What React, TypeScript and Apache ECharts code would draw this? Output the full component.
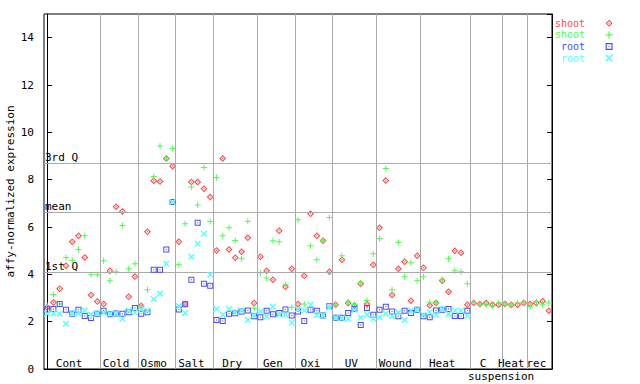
import React, { useEffect, useRef } from "react";
import * as echarts from "echarts";

// ---------------- data ----------------
const groupNames = ["Cont", "Cold", "Osmo", "Salt", "Dry", "Gen", "Oxi", "UV", "Wound", "Heat", "C", "Heat", "rec"];
const groupSizes = [9, 6, 6, 6, 7, 6, 6, 7, 7, 8, 5, 4, 4];

const seriesLabels = ["shoot", "shoot", "root", "root"];

const shoot1 = [
  2.60, 2.81, 3.39, 4.36, 5.38, 5.63, 4.71, 3.13, 2.85,
  2.75, 4.15, 6.86, 6.65, 3.05, 3.91,
  2.67, 5.80, 7.95, 7.92, 8.89, 8.57,
  5.38, 2.75, 7.90, 7.90, 7.62, 7.27,
  5.01, 8.89, 5.05, 4.70, 4.95, 5.55, 2.79,
  4.74, 4.15, 3.77, 5.84, 3.48, 4.24,
  2.75, 3.94, 6.56, 5.63, 5.42, 4.11,
  2.71, 4.62, 2.79, 2.68, 3.60, 2.75, 4.40,
  5.97, 7.96, 3.13, 4.24, 4.53, 2.88, 4.79,
  4.28, 2.68, 2.79, 3.73, 3.26, 5.00, 4.91, 2.71,
  2.79, 2.75, 2.79, 2.71, 2.71,
  2.75, 2.71, 2.71, 2.79,
  2.75, 2.79, 2.86, 2.46,
];

const shoot2 = [
  2.68, 3.15, 2.75, 4.71, 4.59, 5.05, 5.63, 3.98, 3.98,
  4.57, 3.73, 4.11, 6.06, 4.24, 4.45,
  2.68, 3.35, 8.13, 9.42, 8.87, 9.32,
  4.40, 6.14, 7.69, 6.93, 8.51, 6.23,
  8.09, 5.63, 5.97, 5.43, 4.66, 6.24, 2.57,
  4.07, 3.85, 5.42, 5.38, 3.56, 2.61,
  6.31, 2.75, 5.21, 4.62, 5.42, 6.40,
  2.72, 4.79, 2.82, 2.73, 3.64, 2.89, 4.87,
  5.51, 8.47, 3.35, 5.34, 3.90, 4.49, 3.73,
  3.90, 2.82, 2.80, 3.77, 4.66, 4.15, 4.11, 3.60,
  2.79, 2.75, 2.71, 2.67, 2.79,
  2.75, 2.71, 2.79, 2.79,
  2.63, 2.84, 2.71, 2.79,
];

const root1 = [
  2.51, 2.54, 2.75, 2.50, 2.33, 2.50, 2.24, 2.16, 2.33,
  2.46, 2.31, 2.34, 2.33, 2.40, 2.58,
  2.33, 2.40, 4.19, 4.19, 5.05, 7.06,
  2.51, 2.74, 3.77, 6.18, 3.60, 3.52,
  2.07, 2.03, 2.33, 2.36, 2.43, 2.47, 2.23,
  2.19, 2.46, 2.31, 2.37, 2.51, 2.26,
  2.43, 2.03, 2.50, 2.46, 2.26, 2.65,
  2.17, 2.17, 2.37, 2.54, 1.86, 2.58, 2.29,
  2.50, 2.63, 2.43, 2.23, 2.46, 2.37, 2.50,
  2.23, 2.19, 2.47, 2.50, 2.54, 2.24, 2.24, 2.46,
  null, null, null, null, null,
  null, null, null, null,
  null, null, null, null,
];

const root2 = [
  2.33, 2.36, 2.33, 1.91, 2.36, 2.36, 2.47, 2.30, 2.36,
  2.38, 2.33, 2.33, 2.12, 2.47, 2.40,
  2.51, 2.47, 2.96, 3.18, 4.45, 7.06,
  2.65, 2.37, 4.74, 5.29, 5.72, 3.98,
  2.54, 2.29, 2.54, 2.40, 2.47, 2.07, 2.28,
  2.43, 2.23, 2.64, 2.29, 2.29, 1.95,
  2.54, 2.47, 2.72, 2.28, 2.26, 2.60,
  2.17, 2.14, 2.12, 2.50, 2.17, 2.29, 2.12,
  2.19, 2.33, 2.23, 2.40, 2.07, 2.47, 2.50,
  2.29, 2.40, 2.29, 2.54, 2.33, 2.46, 2.46, 2.24,
  null, null, null, null, null,
  null, null, null, null,
  null, null, null, null,
];

const quartileNames = ["3rd Q", "mean", "1st Q"];
const quartileValues = [8.68, 6.61, 4.07];

const yMin = 0;
const yMax = 15;
const yInterval = 2;

// ---------------- styling ----------------
const FONT = "DejaVu Sans Mono";
const COLORS = ["#ff4c4c", "#4cff4c", "#4c4cff", "#55ffff"];
const SYMBOLS = [
  "path://M3.5,0 L7,3.5 L3.5,7 L0,3.5 Z M3.5,1.5 L1.5,3.5 L3.5,5.5 L5.5,3.5 Z M3.5,2.7 L4.3,3.5 L3.5,4.3 L2.7,3.5 Z",
  "path://M0,2.5 H6 V3.5 H0 Z M2.5,0 H3.5 V6 H2.5 Z",
  "path://M0,0 H6 V6 H0 Z M1,1 V5 H5 V1 Z M2.5,2.5 H3.5 V3.5 H2.5 Z",
  "path://M0,0 L1,0 L6,5 L6,6 L5,6 L0,1 Z M6,0 L6,1 L1,6 L0,6 L0,5 L5,0 Z",
];
const SIZES = [7, 6, 6, 6];

export default function App() {
  const ref = useRef<HTMLDivElement>(null);

  useEffect(() => {
    if (!ref.current) return;
    const chart = echarts.init(ref.current, null, { renderer: "svg" });

    const total = groupSizes.reduce((a, b) => a + b, 0);
    const boundaries: number[] = [];
    const labelPos: number[] = [];
    let acc = 0;
    groupSizes.forEach((n, i) => {
      // label sits slightly left of the group's centre, as in the original
      labelPos.push(acc + (n - 1) / 2 - 0.5);
      acc += n;
      if (i < groupSizes.length - 1) boundaries.push(acc - 0.5);
    });
    const labelByKey: Record<string, string> = {};
    labelPos.forEach((c, i) => {
      labelByKey[c.toFixed(2)] = groupNames[i];
    });

    const allSeries = [shoot1, shoot2, root1, root2];
    const ids = ["s1", "s2", "r1", "r2"];

    const scatterSeries = allSeries.map((arr, k) => ({
      type: "scatter",
      name: ids[k],
      data: arr.map((v, i) => [i, v]).filter((p) => p[1] !== null),
      symbol: SYMBOLS[k],
      symbolSize: SIZES[k],
      itemStyle: { color: COLORS[k], opacity: 1 },
      z: 3 + k,
      silent: true,
    }));

    const lineStyle = { color: "#aaaaaa", width: 1, type: "solid" };

    const option = {
      animation: false,
      backgroundColor: "#ffffff",
      grid: {
        left: 44,
        right: 88,
        top: 14,
        bottom: 15,
        containLabel: false,
        outerBoundsMode: "none",
        show: true,
        borderColor: "#000",
        borderWidth: 1,
        backgroundColor: "transparent",
      },
      legend: {
        orient: "vertical",
        left: 555,
        top: 17.5,
        padding: 0,
        itemGap: 0,
        itemWidth: 38,
        itemHeight: 7,
        align: "right",
        selectedMode: false,
        textStyle: { fontFamily: FONT, fontSize: 10, lineHeight: 11.6 },
        formatter: (name: string) => seriesLabels[ids.indexOf(name)],
        data: ids.map((id, k) => ({ name: id, textStyle: { color: COLORS[k] } })),
      },
      xAxis: {
        type: "value",
        min: -0.5,
        max: total - 0.5,
        splitLine: { show: false },
        axisTick: { show: false },
        axisLine: { show: true, lineStyle: { color: "#000", width: 1 } },
        axisLabel: {
          customValues: labelPos,
          showMinLabel: true,
          showMaxLabel: true,
          hideOverlap: false,
          margin: -12,
          fontFamily: FONT,
          fontSize: 11,
          color: "#000",
          lineHeight: 13,
          formatter: (v: number) => {
            const name = labelByKey[v.toFixed(2)] || "";
            return name === "C" ? "C\n{s|suspension}" : name;
          },
          rich: {
            s: { fontFamily: FONT, fontSize: 11, color: "#000", lineHeight: 13, padding: [0, 0, 0, 36] },
          },
        },
      },
      yAxis: [
        {
          type: "value",
          min: yMin,
          max: yMax,
          interval: yInterval,
          name: "affy-normalized expression",
          nameLocation: "middle",
          nameRotate: 90,
          nameGap: 28,
          nameMoveOverlap: false,
          nameTextStyle: { fontFamily: FONT, fontSize: 11, color: "#000" },
          splitLine: { show: false },
          axisLine: { show: true, lineStyle: { color: "#000" } },
          axisTick: { show: true, inside: true, length: 5, lineStyle: { color: "#000" } },
          axisLabel: { fontFamily: FONT, fontSize: 11, color: "#000", margin: 10, showMaxLabel: false },
        },
        {
          type: "value",
          position: "right",
          min: yMin,
          max: yMax,
          interval: yInterval,
          splitLine: { show: false },
          axisLine: { show: true, lineStyle: { color: "#000" } },
          axisTick: { show: true, inside: true, length: 5, lineStyle: { color: "#000" } },
          axisLabel: { show: false },
        },
      ],
      series: [
        {
          type: "scatter",
          data: [],
          z: 1,
          silent: true,
          markLine: {
            silent: true,
            symbol: ["none", "none"],
            animation: false,
            lineStyle,
            data: [
              ...boundaries.map((b) => ({ xAxis: b, label: { show: false } })),
              ...quartileValues.map((v, i) => ({
                yAxis: v,
                name: quartileNames[i],
                label: {
                  show: true,
                  position: "insideStartTop",
                  formatter: "{b}",
                  distance: [1, 1],
                  fontFamily: FONT,
                  fontSize: 11,
                  color: "#000",
                },
              })),
            ],
          },
        },
        ...scatterSeries,
      ],
    };

    chart.setOption(option as any);
    return () => chart.dispose();
  }, []);

  return (
    <div
      ref={ref}
      style={{ position: "fixed", left: 0, top: 0, width: 640, height: 384, background: "#fff" }}
    />
  );
}
